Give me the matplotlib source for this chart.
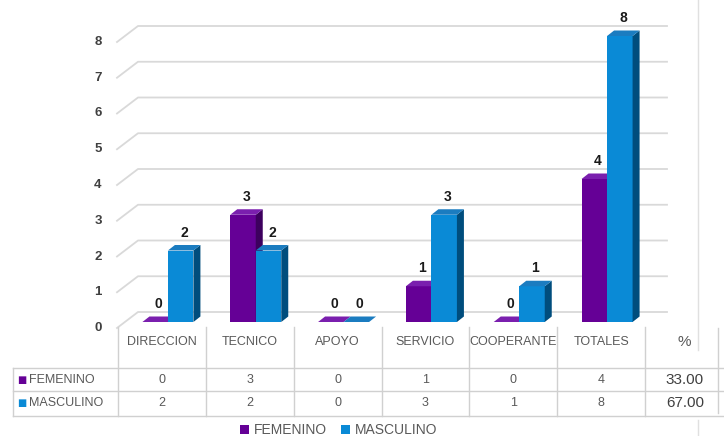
import matplotlib
matplotlib.use("Agg")
import matplotlib.pyplot as plt
from matplotlib.patches import Polygon, Patch, Rectangle
from matplotlib import font_manager
import numpy as np

categories = ["DIRECCION", "TECNICO", "APOYO", "SERVICIO", "COOPERANTE", "TOTALES"]
series_names = ["FEMENINO", "MASCULINO"]
femenino = [0, 3, 0, 1, 0, 4]
masculino = [2, 2, 0, 3, 1, 8]
percent_header = "%"
percent_values = ["33.00", "67.00"]
y_ticks = [0, 1, 2, 3, 4, 5, 6, 7, 8]

names = {f.name for f in font_manager.fontManager.ttflist}
narrow = "Liberation Sans Narrow" if "Liberation Sans Narrow" in names else "Liberation Sans"
NARROW = [narrow, "DejaVu Sans"]
BOLD = ["Liberation Sans", "DejaVu Sans"]

W, H = 724, 436
fig = plt.figure(figsize=(W / 100, H / 100), dpi=100)
fig.patch.set_facecolor("white")

# plot area in pixels
X0, X1 = 118, 645
Y0 = 322          # baseline pixel (from top)
PY = 35.75        # pixels per unit
PX = (X1 - X0) / 6.0
ax = fig.add_axes([X0 / W, (H - Y0) / H, (X1 - X0) / W, Y0 / H])
ax.set_xlim(-0.5, 5.5)
ax.set_ylim(0, Y0 / PY)
ax.axis("off")

grid_c = "#d9d9d9"
front_off = -6 / PY
back_off = front_off + 16 / PY
xl_front = -0.5 - 1 / PX
xl_back = -0.5 + 20 / PX
xr_back = 5.5 + 22 / PX
for v in y_ticks:
    ax.plot([xl_front, xl_back, xr_back], [v + front_off, v + back_off, v + back_off],
            color=grid_c, lw=1.3, clip_on=False, zorder=1)
    ax.text(-0.5 - 20 / PX, v + front_off, str(v), ha="center", va="center",
            fontsize=9.5, fontweight="bold", color="#404040", family=BOLD)

shift = 6 / PX
bw = 25.5 / PX
ddx = 7 / PX
ddy = 5.5 / PY
x = np.arange(len(categories)) + shift

styles = [
    dict(front="#650096", side="#3d005e", top="#7a1fae"),
    dict(front="#0a8ad6", side="#004d7d", top="#1b7cc0"),
]

def draw_bars(xs_left, vals, st):
    ax.bar(xs_left, vals, width=bw, align="edge", color=st["front"], zorder=3, linewidth=0)
    for xl, v in zip(xs_left, vals):
        xr = xl + bw
        side = Polygon([(xr, 0), (xr + ddx, ddy), (xr + ddx, v + ddy), (xr, v)],
                       closed=True, facecolor=st["side"], edgecolor="none", zorder=3)
        top = Polygon([(xl, v), (xl + ddx, v + ddy), (xr + ddx, v + ddy), (xr, v)],
                      closed=True, facecolor=st["top"], edgecolor="none", zorder=3)
        ax.add_patch(side)
        ax.add_patch(top)
        ax.text(xl + bw / 2 + ddx / 2, v + 18 / PY, str(v), ha="center", va="center",
                fontsize=10, fontweight="bold", color="#1a1a1a", family=BOLD, zorder=5)

draw_bars(x - bw, femenino, styles[0])
draw_bars(x, masculino, styles[1])

# table / overlay axes in pixel coords
tax = fig.add_axes([0, 0, 1, 1])
tax.set_xlim(0, W)
tax.set_ylim(H, 0)
tax.axis("off")
line_c = "#d0d0d0"
bounds = [X0 + k * PX for k in range(7)]
for b in bounds:
    tax.plot([b, b], [327, 416], color=line_c, lw=1)
tax.plot([13, 13], [368, 416], color=line_c, lw=1)
tax.plot([718, 718], [328, 413], color=line_c, lw=1)
for yy in [368, 391, 416]:
    tax.plot([13, W], [yy, yy], color=line_c, lw=1)
tax.plot([698, 698], [0, 350], color="#e0e0e0", lw=1)
tax.plot([698, 698], [420, H], color="#e0e0e0", lw=1)

txt_c = "#595959"
centers = [X0 + (k + 0.5) * PX for k in range(6)]
for k, (c, cat) in enumerate(zip(centers, categories)):
    t = tax.text(c, 342, cat, ha="center", va="center", fontsize=9, color=txt_c, family=NARROW)
    clip = Rectangle((bounds[k] + 1, 327), PX - 2, 41, transform=tax.transData)
    t.set_clip_path(clip)
tax.text(684, 342, percent_header, ha="center", va="center", fontsize=11, color=txt_c, family=NARROW)

rows_y = [380, 403]
for ry, name, vals, st, pv in zip(rows_y, series_names, [femenino, masculino], styles, percent_values):
    tax.text(22, ry, "■", ha="center", va="center", fontsize=7, color=st["front"], family=["DejaVu Sans"])
    tax.text(29, ry, name, ha="left", va="center", fontsize=9, color=txt_c, family=NARROW)
    for c, v in zip(centers, vals):
        tax.text(c, ry, str(v), ha="center", va="center", fontsize=9, color=txt_c, family=NARROW)
    tax.text(685, ry, pv, ha="center", va="center", fontsize=11, color="#404040", family=NARROW)

handles = [Patch(facecolor=st["front"], edgecolor="none", label=n) for st, n in zip(styles, series_names)]
fig.legend(handles=handles, loc="center", bbox_to_anchor=(339 / W, 1 - 430 / H), ncol=2,
           frameon=False, handlelength=0.6, handleheight=0.6, handletextpad=0.4,
           columnspacing=1.0, prop=dict(family=narrow, size=10), labelcolor=txt_c)

fig.savefig("out.png", dpi=100, facecolor="white")
